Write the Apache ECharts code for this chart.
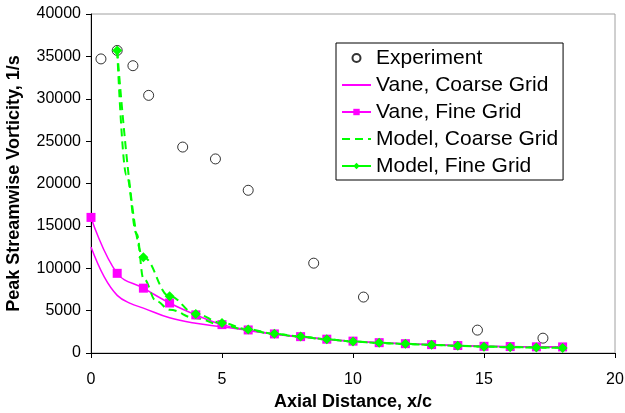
<!DOCTYPE html>
<html>
<head>
<meta charset="utf-8">
<script src="https://cdn.jsdelivr.net/npm/echarts@6/dist/echarts.min.js"></script>
<style>html,body{margin:0;padding:0;background:#fff;}#chart{width:625px;height:413px;}</style>
</head>
<body>
<div id="chart"></div>
<script>
// Experiment
const expX = [0.38, 1.0, 1.6, 2.2, 3.5, 4.75, 6.0, 8.5, 10.4, 14.75, 17.25];
const expY = [34700, 35700, 33900, 30400, 24300, 22900, 19200, 10600, 6600, 2700, 1750];
// Vane, Coarse Grid
const vaneCoarseX = [0, 0.5, 1, 1.5, 2, 3, 4, 5, 6, 7, 8, 9, 10, 11, 12, 13, 14, 15, 16, 17, 18];
const vaneCoarseY = [12500, 9000, 6800, 5850, 5300, 4150, 3500, 3100, 2650, 2200, 1880, 1600, 1380, 1200, 1080, 970, 870, 790, 750, 720, 700];
// Vane, Fine Grid
const vaneFineX = [0, 1, 2, 3, 4, 5, 6, 7, 8, 9, 10, 11, 12, 13, 14, 15, 16, 17, 18];
const vaneFineY = [16000, 9400, 7650, 5900, 4500, 3350, 2720, 2250, 1930, 1630, 1400, 1220, 1100, 990, 880, 790, 760, 730, 720];
// Model, Coarse Grid
const modelCoarseX = [1, 1.35, 1.75, 2, 2.5, 3, 4, 5, 6, 7, 8, 9, 10, 11, 12, 13, 14, 15, 16, 17, 18];
const modelCoarseY = [35700, 21000, 14000, 8800, 6100, 5100, 4100, 3300, 2700, 2250, 1900, 1600, 1350, 1170, 1060, 950, 850, 760, 710, 660, 630];
// Model, Fine Grid
const modelFineX = [1, 2, 3, 4, 5, 6, 7, 8, 9, 10, 11, 12, 13, 14, 15, 16, 17, 18];
const modelFineY = [35700, 11300, 6700, 4600, 3550, 2780, 2280, 1950, 1620, 1360, 1200, 1100, 960, 860, 750, 680, 640, 600];

const xTicks = [0, 5, 10, 15, 20];
const yTicks = [0, 5000, 10000, 15000, 20000, 25000, 30000, 35000, 40000];

const zip = (xs, ys) => xs.map((x, i) => [x, ys[i]]);
const FONT = '"Liberation Sans", Arial, Helvetica, sans-serif';
const MAG = '#ff00ff', GRN = '#00ff00';
const noSym = {color: 'rgba(0,0,0,0)', borderWidth: 0, opacity: 0};

const chart = echarts.init(document.getElementById('chart'), null, {renderer: 'canvas'});
chart.setOption({
  animation: false,
  backgroundColor: '#fff',
  textStyle: {fontFamily: FONT, color: '#000'},
  grid: {left: 91, right: 10, top: 14, bottom: 60, containLabel: false, outerBoundsMode: 'none',
    show: true, borderColor: '#a0a0a0', borderWidth: 1, backgroundColor: 'transparent'},
  xAxis: {
    type: 'value', min: xTicks[0], max: xTicks[xTicks.length - 1], interval: 5,
    name: 'Axial Distance, x/c', nameLocation: 'middle', nameGap: 33,
    nameTextStyle: {fontFamily: FONT, fontSize: 18, fontWeight: 'bold', color: '#000'},
    axisLine: {lineStyle: {color: '#000', width: 1}},
    axisTick: {show: true, inside: false, length: 5, lineStyle: {color: '#000'}},
    axisLabel: {fontFamily: FONT, fontSize: 16, color: '#000', margin: 19, formatter: v => String(v)},
    splitLine: {show: false}
  },
  yAxis: {
    type: 'value', min: yTicks[0], max: yTicks[yTicks.length - 1], interval: 5000,
    name: 'Peak Streamwise Vorticity, 1/s', nameLocation: 'middle', nameGap: 68,
    nameTextStyle: {fontFamily: FONT, fontSize: 18, fontWeight: 'bold', color: '#000'},
    axisLine: {show: true, lineStyle: {color: '#000', width: 1}},
    axisTick: {show: true, inside: false, length: 5, lineStyle: {color: '#000'}},
    axisLabel: {fontFamily: FONT, fontSize: 16, color: '#000', margin: 10, formatter: v => String(v)},
    splitLine: {show: false}
  },
  legend: {
    orient: 'vertical', left: 336, top: 43,
    backgroundColor: '#fff', borderColor: '#000', borderWidth: 1,
    padding: [4, 5, 3, 5], itemWidth: 29, itemHeight: 8, itemGap: 5,
    textStyle: {fontFamily: FONT, fontSize: 21, color: '#000', lineHeight: 22},
    data: [
      {name: 'Experiment'},
      {name: 'Vane, Coarse Grid', itemStyle: noSym},
      {name: 'Vane, Fine Grid'},
      {name: 'Model, Coarse Grid', itemStyle: noSym},
      {name: 'Model, Fine Grid', lineStyle: {type: 'solid'}}
    ]
  },
  series: [
    {name: 'Vane, Coarse Grid', type: 'line', data: zip(vaneCoarseX, vaneCoarseY), smooth: 0.4,
      symbol: 'none', lineStyle: {color: MAG, width: 1.5}, itemStyle: {color: MAG}},
    {name: 'Vane, Fine Grid', type: 'line', data: zip(vaneFineX, vaneFineY), smooth: 0.4,
      symbol: 'rect', symbolSize: 9, showAllSymbol: true, lineStyle: {color: MAG, width: 1.5}, itemStyle: {color: MAG}},
    {name: 'Model, Coarse Grid', type: 'line', data: zip(modelCoarseX, modelCoarseY), smooth: 0.4, smoothMonotone: 'x',
      symbol: 'none', lineStyle: {color: GRN, width: 2, type: [8, 5]}, itemStyle: {color: GRN}},
    {name: 'Model, Fine Grid', type: 'line', data: zip(modelFineX, modelFineY), smooth: 0.4, smoothMonotone: 'x',
      symbol: 'diamond', symbolSize: 10, showAllSymbol: true, lineStyle: {color: GRN, width: 2, type: [8, 5]}, itemStyle: {color: GRN}},
    {name: 'Experiment', type: 'scatter', data: zip(expX, expY), symbol: 'circle', symbolSize: 10,
      itemStyle: {color: 'rgba(255,255,255,0)', borderColor: '#000', borderWidth: 1}}
  ]
});
</script>
</body>
</html>
